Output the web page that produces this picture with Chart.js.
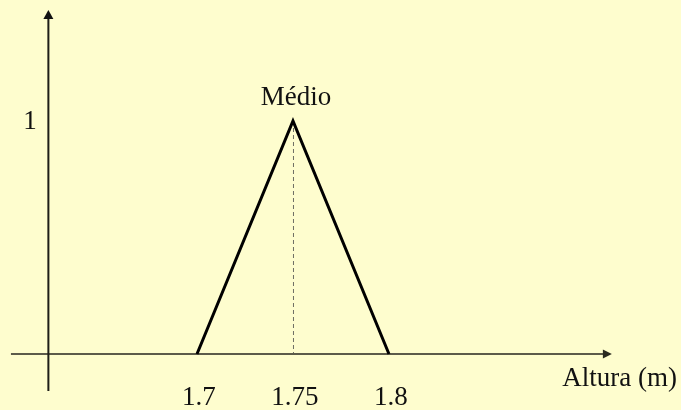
<!DOCTYPE html>
<html>
<head>
<meta charset="utf-8">
<script src="https://cdn.jsdelivr.net/npm/chart.js@4/dist/chart.umd.min.js"></script>
<style>
  html, body { margin: 0; padding: 0; background: #FEFDCE; }
  canvas { display: block; }
</style>
</head>
<body>
<canvas id="c" width="681" height="410"></canvas>
<script>
// Fuzzy set "Médio" for height (Altura)
const heights = [1.7, 1.75, 1.8];
const membership = [0, 1, 0];
const setName = 'Médio';
const xTickValues = [1.7, 1.75, 1.8];
const xTickLabels = ['1.7', '1.75', '1.8'];
const yTickValues = [1];
const yTickLabels = ['1'];
const xAxisTitle = 'Altura (m)';

const FONT = '27px "Liberation Serif", "Times New Roman", serif';
const BG = '#FEFDCE';

const peakIndex = membership.indexOf(Math.max(...membership));

const axesPlugin = {
  id: 'axesWithArrows',
  beforeDraw(chart) {
    const { ctx, width, height } = chart;
    ctx.save();
    ctx.fillStyle = BG;
    ctx.fillRect(0, 0, width, height);
    ctx.restore();
  },
  beforeDatasetsDraw(chart) {
    const { ctx, scales: { x, y } } = chart;
    const x0 = x.getPixelForValue(1.6031);
    const x1 = x.getPixelForValue(1.9161);
    const yAxisX = x.getPixelForValue(1.6226);
    const y0 = y.getPixelForValue(0);
    const yTop = y.getPixelForValue(1.476);
    const yBottom = y.getPixelForValue(-0.159);

    ctx.save();
    // horizontal axis
    ctx.strokeStyle = '#5c5b4a';
    ctx.lineWidth = 2;
    ctx.beginPath();
    ctx.moveTo(x0, y0);
    ctx.lineTo(x1 - 7, y0);
    ctx.stroke();
    ctx.fillStyle = '#2a2a20';
    ctx.beginPath();
    ctx.moveTo(x1, y0);
    ctx.lineTo(x1 - 9, y0 - 4.5);
    ctx.lineTo(x1 - 9, y0 + 4.5);
    ctx.closePath();
    ctx.fill();

    // vertical axis
    ctx.strokeStyle = '#1e1e18';
    ctx.beginPath();
    ctx.moveTo(yAxisX, yBottom);
    ctx.lineTo(yAxisX, yTop + 7);
    ctx.stroke();
    ctx.fillStyle = '#111';
    ctx.beginPath();
    ctx.moveTo(yAxisX, yTop);
    ctx.lineTo(yAxisX - 5, yTop + 9);
    ctx.lineTo(yAxisX + 5, yTop + 9);
    ctx.closePath();
    ctx.fill();

    // dashed drop line from the peak
    const px = x.getPixelForValue(heights[peakIndex]);
    const py = y.getPixelForValue(membership[peakIndex]);
    ctx.strokeStyle = '#6e6e62';
    ctx.lineWidth = 1;
    ctx.setLineDash([4, 3]);
    ctx.beginPath();
    ctx.moveTo(px + 0.5, py);
    ctx.lineTo(px + 0.5, y0 - 1);
    ctx.stroke();
    ctx.restore();
  },
  afterDatasetsDraw(chart) {
    const { ctx, scales: { x, y } } = chart;
    const y0 = y.getPixelForValue(0);
    ctx.save();
    ctx.font = FONT;
    ctx.fillStyle = '#111';

    // x tick labels
    ctx.textAlign = 'center';
    ctx.textBaseline = 'alphabetic';
    xTickValues.forEach((v, i) => {
      ctx.fillText(xTickLabels[i], x.getPixelForValue(v) + 2, y0 + 51);
    });

    // y tick labels
    ctx.textBaseline = 'middle';
    yTickValues.forEach((v, i) => {
      ctx.fillText(yTickLabels[i], 30, y.getPixelForValue(v) + 1);
    });

    // set name above the peak
    ctx.textBaseline = 'alphabetic';
    ctx.fillText(setName, x.getPixelForValue(heights[peakIndex]) + 3, y.getPixelForValue(membership[peakIndex]) - 16);

    // axis title
    ctx.textAlign = 'right';
    ctx.fillText(xAxisTitle, 677, y0 + 32);
    ctx.restore();
  }
};

new Chart(document.getElementById('c'), {
  type: 'scatter',
  data: {
    datasets: [{
      data: heights.map((h, i) => ({ x: h, y: membership[i] })),
      showLine: true,
      borderColor: '#000',
      borderWidth: 3,
      pointRadius: 0,
      fill: false,
      tension: 0,
      clip: false
    }]
  },
  options: {
    responsive: false,
    animation: false,
    events: [],
    layout: { padding: 0 },
    plugins: { legend: { display: false }, tooltip: { enabled: false } },
    scales: {
      x: { type: 'linear', display: false, min: 1.5974, max: 1.9521 },
      y: { type: 'linear', display: false, min: -0.2403, max: 1.5193 }
    }
  },
  plugins: [axesPlugin]
});
</script>
</body>
</html>
